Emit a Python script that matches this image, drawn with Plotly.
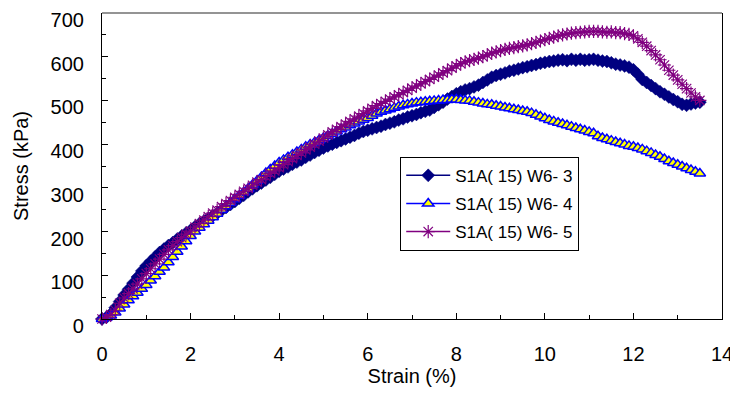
import plotly.graph_objects as go

strain = [0.0, 0.1, 0.2, 0.3, 0.4, 0.5, 0.6, 0.7, 0.8, 0.9,
          1.0, 1.1, 1.2, 1.3, 1.4, 1.5, 1.6, 1.7, 1.8, 1.9,
          2.0, 2.1, 2.2, 2.3, 2.4, 2.5, 2.6, 2.7, 2.8, 2.9,
          3.0, 3.1, 3.2, 3.3, 3.4, 3.5, 3.6, 3.7, 3.8, 3.9,
          4.0, 4.1, 4.2, 4.3, 4.4, 4.5, 4.6, 4.7, 4.8, 4.9,
          5.0, 5.1, 5.2, 5.3, 5.4, 5.5, 5.6, 5.7, 5.8, 5.9,
          6.0, 6.1, 6.2, 6.3, 6.4, 6.5, 6.6, 6.7, 6.8, 6.9,
          7.0, 7.1, 7.2, 7.3, 7.4, 7.5, 7.6, 7.7, 7.8, 7.9,
          8.0, 8.1, 8.2, 8.3, 8.4, 8.5, 8.6, 8.7, 8.8, 8.9,
          9.0, 9.1, 9.2, 9.3, 9.4, 9.5, 9.6, 9.7, 9.8, 9.9,
          10.0, 10.1, 10.2, 10.3, 10.4, 10.5, 10.6, 10.7, 10.8, 10.9,
          11.0, 11.1, 11.2, 11.3, 11.4, 11.5, 11.6, 11.7, 11.8, 11.9,
          12.0, 12.1, 12.2, 12.3, 12.4, 12.5, 12.6, 12.7, 12.8, 12.9,
          13.0, 13.1, 13.2, 13.3, 13.4, 13.5]

stress_w6_3 = [0, 4, 12, 26, 40, 55, 68, 82, 96, 110,
               122, 132, 142, 152, 160, 168, 175, 183, 190, 197,
               203, 211, 218, 224, 230, 236, 242, 249, 255, 262,
               269, 276, 283, 291, 298, 305, 311, 318, 324, 331,
               338, 343, 348, 354, 359, 364, 370, 375, 381, 386,
               391, 396, 400, 404, 408, 412, 416, 420, 425, 429,
               432, 435, 438, 441, 445, 448, 451, 455, 458, 462,
               465, 468, 472, 475, 478, 484, 490, 496, 503, 509,
               515, 520, 524, 527, 531, 535, 541, 547, 553, 557,
               560, 563, 567, 569, 572, 575, 577, 580, 582, 585,
               587, 589, 590, 592, 593, 591, 594, 592, 594, 592,
               593, 594, 592, 590, 589, 586, 583, 581, 579, 576,
               570, 560, 548, 541, 534, 527, 520, 514, 508, 502,
               497, 491, 489, 492, 494, 496]

stress_w6_4 = [0, 3, 8, 15, 24, 33, 43, 52, 60, 69,
               78, 88, 98, 108, 118, 130, 142, 154, 166, 178,
               190, 200, 209, 217, 225, 233, 241, 250, 258, 266,
               274, 282, 290, 298, 307, 316, 325, 334, 342, 350,
               358, 364, 370, 376, 382, 388, 394, 399, 404, 409,
               414, 419, 424, 429, 434, 438, 443, 447, 452, 456,
               460, 465, 470, 474, 477, 480, 483, 486, 489, 491,
               493, 495, 496, 497, 498, 499, 500, 501, 501, 502,
               502, 501, 500, 499, 497, 495, 493, 491, 490, 488,
               486, 484, 482, 480, 478, 476, 474, 471, 467, 463,
               459, 455, 452, 449, 446, 443, 440, 437, 434, 431,
               428, 425, 418, 414, 411, 408, 405, 402, 399, 396,
               394, 391, 388, 384, 380, 375, 371, 366, 361, 357,
               353, 349, 345, 341, 337, 333]

stress_w6_5 = [0, 4, 10, 20, 36, 48, 58, 69, 80, 92,
               104, 115, 126, 137, 148, 158, 168, 177, 186, 194,
               201, 210, 218, 226, 234, 242, 249, 257, 264, 271,
               278, 285, 292, 299, 306, 313, 319, 326, 333, 339,
               346, 353, 360, 367, 374, 380, 387, 393, 400, 407,
               414, 421, 428, 434, 440, 446, 452, 458, 464, 470,
               476, 482, 488, 493, 498, 503, 508, 513, 518, 523,
               528, 533, 538, 543, 548, 553, 558, 563, 568, 574,
               579, 584, 588, 591, 594, 597, 600, 604, 608, 611,
               614, 617, 619, 621, 623, 625, 627, 630, 633, 636,
               639, 642, 645, 648, 650, 652, 654, 655, 656, 657,
               658, 658, 658, 657, 656, 657, 655, 655, 653, 651,
               648, 641, 633, 624, 614, 604, 593, 581, 569, 558,
               547, 537, 527, 517, 508, 500]

series_names = ["S1A( 15) W6- 3", "S1A( 15) W6- 4", "S1A( 15) W6- 5"]
x_ticks = [0, 2, 4, 6, 8, 10, 12, 14]
y_ticks = [0, 100, 200, 300, 400, 500, 600, 700]

FONT = "Liberation Sans, Arial, sans-serif"

fig = go.Figure()
fig.add_trace(go.Scatter(
    x=strain, y=stress_w6_3, name=series_names[0], mode="lines+markers",
    cliponaxis=False, legendgroup="a",
    line=dict(color="#000080", width=1.5),
    marker=dict(symbol="diamond", size=10, color="#000080",
                line=dict(color="#000080", width=0.5))))
fig.add_trace(go.Scatter(
    x=strain, y=stress_w6_4, name=series_names[1], mode="lines+markers",
    cliponaxis=False, legendgroup="b",
    line=dict(color="#0000FF", width=1.5),
    marker=dict(symbol="triangle-up", size=10, color="#FFFF00",
                line=dict(color="#0000FF", width=1.5))))
fig.add_trace(go.Scatter(
    x=strain, y=stress_w6_5, name=series_names[2], mode="lines+markers",
    cliponaxis=False, legendgroup="c",
    line=dict(color="#800080", width=1.5),
    marker=dict(symbol="asterisk-open", size=11, color="#800080",
                line=dict(color="#800080", width=1.2))))

axis_common = dict(
    showgrid=False, zeroline=False, showline=True, linecolor="black",
    linewidth=1.2, ticks="inside", ticklen=6, tickwidth=1, automargin=False,
    ticklabeloverflow="allow",
    tickcolor="black", tickfont=dict(family=FONT, size=20, color="black"),
)

fig.update_xaxes(
    range=[0, 14], tickvals=x_ticks, ticktext=[str(v) for v in x_ticks],
    mirror=False,
    minor=dict(ticks="inside", ticklen=4, dtick=1, tickcolor="black", showgrid=False),
    title=dict(text="Strain (%)", font=dict(family=FONT, size=20, color="black"), standoff=0),
    ticklabelstandoff=17,
    **axis_common)
fig.update_yaxes(
    range=[0, 700], tickvals=y_ticks, ticktext=[str(v) for v in y_ticks],
    mirror=True,
    minor=dict(ticks="inside", ticklen=4, dtick=50, tickcolor="black", showgrid=False),
    title=dict(text="Stress (kPa)", font=dict(family=FONT, size=20, color="black"), standoff=16),
    ticklabelstandoff=13, ticklabelshift=7,
    **axis_common)

fig.add_shape(type="line", xref="paper", yref="paper", x0=0, x1=1, y0=1, y1=1,
              line=dict(color="#707070", width=1.5))

fig.update_layout(
    width=730, height=390,
    margin=dict(l=94, r=16, t=5, b=79),
    plot_bgcolor="white", paper_bgcolor="white",
    legend=dict(x=0.481, y=0.53, xanchor="left", yanchor="top",
                bordercolor="black", borderwidth=1, bgcolor="white",
                font=dict(family=FONT, size=17, color="black"),
                itemwidth=44, tracegroupgap=3),
    showlegend=True,
)

fig.write_html("out.html")
